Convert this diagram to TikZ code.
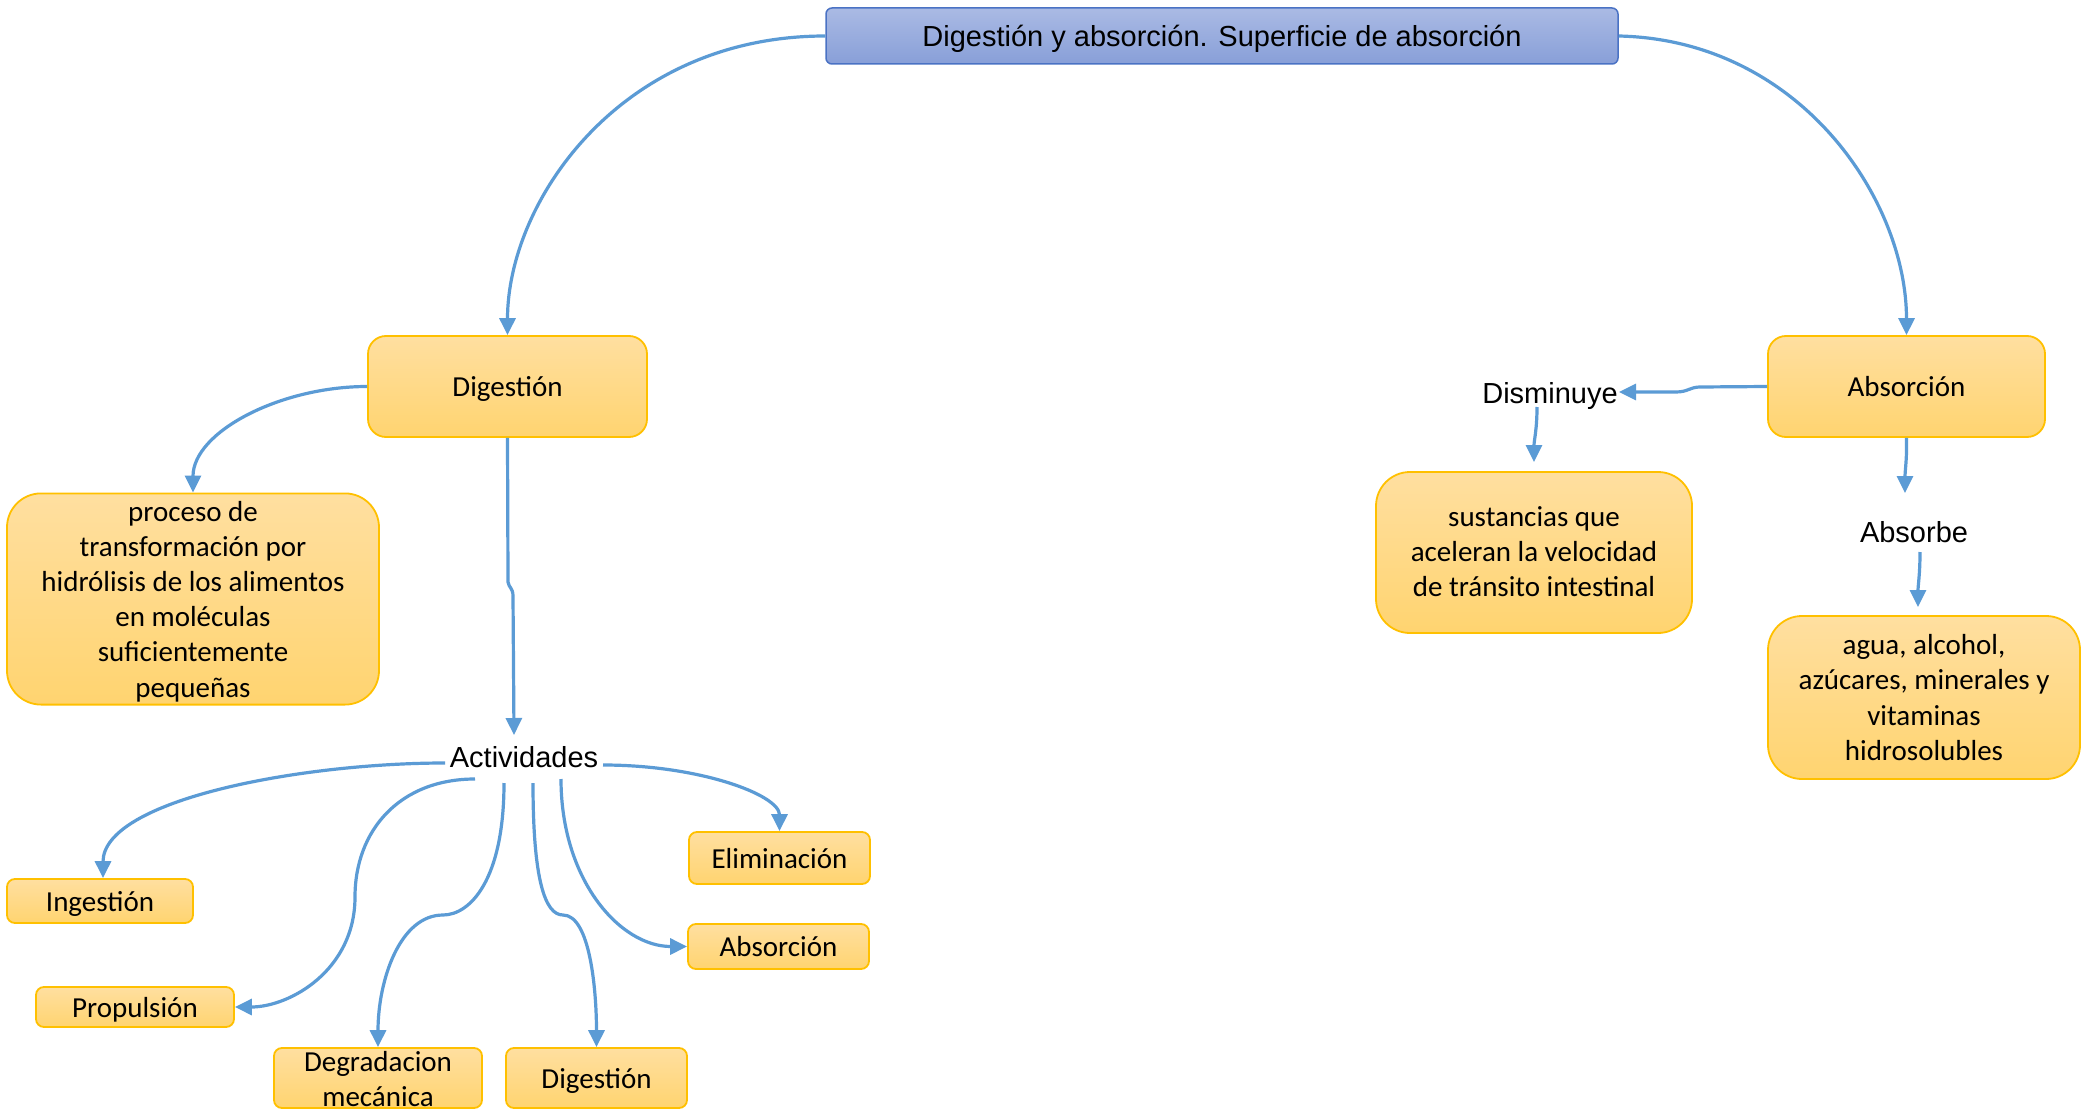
\documentclass[tikz,border=0pt]{standalone}
\usepackage{fontspec}
\setmainfont{Carlito}
\newfontfamily\arialfont{Liberation Sans}
\usetikzlibrary{arrows.meta}
\definecolor{linec}{HTML}{5B9BD5}
\definecolor{boxtop}{HTML}{FFDFA0}
\definecolor{boxbot}{HTML}{FFD470}
\definecolor{boxdraw}{HTML}{FFC000}
\definecolor{titletop}{HTML}{AABAE4}
\definecolor{titlebot}{HTML}{889FD8}
\definecolor{titledraw}{HTML}{4A72C4}
\newcommand\lowtext[2][-3pt]{\raisebox{#1}[\height][\depth]{\begin{tabular}{@{}c@{}}#2\end{tabular}}}
\begin{document}
\begin{tikzpicture}[x=1pt,y=-1pt,
  box/.style={draw=boxdraw, line width=1.8pt, top color=boxtop, bottom color=boxbot,
    inner sep=0pt, text=black, font=\fontsize{29}{35.2}\selectfont},
  bigbox/.style={box, rounded corners=18pt},
  smallbox/.style={box, rounded corners=8pt},
  textbox/.style={box, rounded corners=34pt},
  titlebox/.style={draw=titledraw, line width=1.5pt, top color=titletop, bottom color=titlebot,
    rounded corners=6pt, inner sep=0pt, text=black, font=\arialfont\fontsize{29}{34}\selectfont},
  lbl/.style={inner sep=0pt, anchor=base, text=black, font=\arialfont\fontsize{29}{34}\selectfont},
  conn/.style={draw=linec, line width=3.2pt, -{Triangle[length=17pt,width=16pt]}}
]
\useasboundingbox (0,0) rectangle (2086,1110);
\fill[white] (0,0) rectangle (2086,1110);

% nodes
\node[titlebox, minimum width=792pt, minimum height=56pt] (T) at (1222,36) {\lowtext[-4pt]{Digestión y absorción. Superficie de absorción}};
\node[bigbox, minimum width=279pt, minimum height=101pt] (Dig) at (507.5,386.5) {\lowtext{Digestión}};
\node[bigbox, minimum width=277pt, minimum height=101pt] (Abs) at (1906.5,386.5) {\lowtext{Absorción}};
\node[textbox, minimum width=372pt, minimum height=210pt] (Proc) at (193,599) {\lowtext{proceso de\\transformación por\\hidrólisis de los alimentos\\en moléculas\\suficientemente\\pequeñas}};
\node[textbox, minimum width=316pt, minimum height=161pt] (Sus) at (1534,552.5) {\lowtext[-2pt]{sustancias que\\aceleran la velocidad\\de tránsito intestinal}};
\node[textbox, minimum width=312pt, minimum height=163pt] (Agua) at (1924,697.5) {\lowtext{agua, alcohol,\\azúcares, minerales y\\vitaminas\\hidrosolubles}};

\node[lbl] (Act) at (524,767) {Actividades};
\node[lbl] (Dis) at (1550,403) {Disminuye};
\node[lbl] (Absb) at (1914,542) {Absorbe};

\node[smallbox, minimum width=186pt, minimum height=44pt] (Ing) at (100,901) {\lowtext{Ingestión}};
\node[smallbox, minimum width=198pt, minimum height=40pt] (Prop) at (135,1007) {\lowtext{Propulsión}};
\node[smallbox, minimum width=208pt, minimum height=60pt] (Deg) at (378,1078) {\raisebox{-10pt}[20pt][20pt]{\begin{tabular}{@{}c@{}}Degradacion\\mecánica\end{tabular}}};
\node[smallbox, minimum width=181pt, minimum height=60pt] (Dig2) at (596.5,1078) {\lowtext{Digestión}};
\node[smallbox, minimum width=181pt, minimum height=52pt] (Elim) at (779.5,858) {\lowtext{Eliminación}};
\node[smallbox, minimum width=181pt, minimum height=45pt] (AbsA) at (778.5,946.5) {\lowtext{Absorción}};

% named coordinates near label texts
\coordinate (actN) at (514,735);
\coordinate (actW) at (445,763);
\coordinate (actSW) at (475,779);
\coordinate (actS1) at (504,783);
\coordinate (actS2) at (533,783);
\coordinate (actSE) at (561,779);
\coordinate (actE) at (603,765);
\coordinate (disE) at (1619,392);
\coordinate (disS) at (1537,407);
\coordinate (susN) at (1534,462);
\coordinate (absbN) at (1905,493);
\coordinate (absbS) at (1920,552);
\coordinate (aguaN) at (1918,607);

% connectors
\draw[conn] (T.west) .. controls (620,36) and (507.5,202) .. (Dig.north);
\draw[conn] (T.east) .. controls (1800,40) and (1906.5,200) .. (Abs.north);
\draw[conn] (Dig.west) .. controls (280,386.5) and (193,432) .. (Proc.north);
\draw[conn] (Dig.south) -- (508,582) .. controls (509,588) and (513,588) .. (513,596) -- (actN);

\draw[conn] (actW) .. controls (300,763) and (103,800) .. ([xshift=3pt]Ing.north);
\draw[conn] (actSW) .. controls (400,779) and (355,830) .. (355,897) .. controls (355,970) and (290,1007) .. (Prop.east);
\draw[conn] (actS1) .. controls (504,880) and (470,915) .. (443,915) .. controls (400,915) and (378,980) .. (Deg.north);
\draw[conn] (actS2) .. controls (533,880) and (545,915) .. (563,915) .. controls (590,915) and (596.5,990) .. (Dig2.north);
\draw[conn] (actSE) .. controls (561,880) and (620,946.5) .. (AbsA.west);
\draw[conn] (actE) .. controls (700,765) and (779.5,795) .. (Elim.north);

\draw[conn] (Abs.west) -- (1700,387) .. controls (1690,387) and (1688,392) .. (1676,392) -- (disE);
\draw[conn] (disS) .. controls (1537,430) and (1534,440) .. (susN);
\draw[conn] (Abs.south) .. controls (1907,460) and (1905,470) .. (absbN);
\draw[conn] (absbS) .. controls (1920,575) and (1918,585) .. (aguaN);
\end{tikzpicture}
\end{document}
